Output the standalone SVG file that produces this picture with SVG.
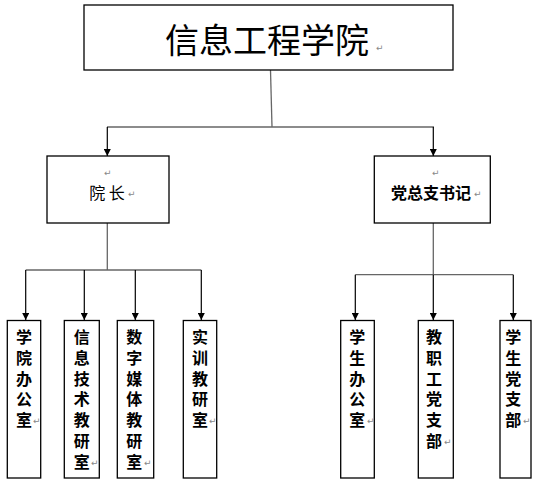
<svg xmlns="http://www.w3.org/2000/svg" width="539" height="486" viewBox="0 0 539 486">
<defs>
<marker id="arr" viewBox="0 0 8 8" refX="8" refY="4" markerUnits="userSpaceOnUse" markerWidth="8" markerHeight="7" orient="auto">
<path d="M0,0 L8,4 L0,8 z" fill="#000"/>
</marker>
</defs>
<style>
.box{fill:#fff;stroke:#000;stroke-width:1.3}
.t{font-family:"Noto Sans CJK SC","Liberation Sans",sans-serif;fill:#000;text-anchor:middle}
.v{font-family:"Noto Sans CJK SC","Liberation Sans",sans-serif;fill:#000;font-size:16px;font-weight:bold;writing-mode:vertical-rl;text-anchor:start;letter-spacing:4.8px}
.rm{font-family:"DejaVu Sans",sans-serif;font-size:9px;fill:#888}
.trunk{stroke:#666;stroke-width:1.3;fill:none}
.drop{stroke:#000;stroke-width:1.2;fill:none;marker-end:url(#arr)}
</style>
<rect width="539" height="486" fill="#fff"/>
<g id="connectors">
<line class="trunk" x1="270.5" y1="70" x2="272" y2="127"/>
<line class="trunk" x1="107" y1="127" x2="434" y2="127"/>
<line class="drop" x1="107.3" y1="127" x2="107.3" y2="156"/>
<line class="drop" x1="433.3" y1="127" x2="433.3" y2="156"/>
<line class="trunk" x1="107.3" y1="223" x2="107.3" y2="270"/>
<line class="trunk" x1="25.7" y1="270" x2="201.3" y2="270"/>
<line class="drop" x1="25.7" y1="270" x2="25.7" y2="320"/>
<line class="drop" x1="84.3" y1="270" x2="84.3" y2="320"/>
<line class="drop" x1="135.3" y1="270" x2="135.3" y2="320"/>
<line class="drop" x1="201.3" y1="270" x2="201.3" y2="320"/>
<line class="trunk" x1="433.3" y1="223" x2="433.3" y2="274.7"/>
<line class="trunk" x1="355.3" y1="274.7" x2="513.3" y2="274.7"/>
<line class="drop" x1="355.3" y1="274.7" x2="355.3" y2="320"/>
<line class="drop" x1="433.3" y1="274.7" x2="433.3" y2="320"/>
<line class="drop" x1="513.3" y1="274.7" x2="513.3" y2="320"/>
</g>
<g id="n-root">
<rect class="box" x="84" y="5" width="369" height="65"/>
<text class="t" x="267" y="53" style="font-size:34px">信息工程学院</text>
<text class="rm" x="376" y="51">↵</text>
</g>
<g id="n-dean">
<rect class="box" x="47" y="156" width="122" height="67"/>
<text class="rm" x="104" y="176">↵</text>
<text class="t" x="107" y="199" style="font-size:16px">院 长</text>
<text class="rm" x="128" y="197">↵</text>
</g>
<g id="n-secretary">
<rect class="box" x="374.3" y="156" width="116" height="67"/>
<text class="rm" x="432" y="176">↵</text>
<text class="t" x="431" y="199" style="font-size:16px;font-weight:bold">党总支书记</text>
<text class="rm" x="474" y="197">↵</text>
</g>
<g id="n-office">
<rect class="box" x="7.3" y="320.5" width="33.4" height="157.5"/>
<text class="v" x="24" y="329">学院办公室</text>
<text class="rm" x="33" y="424">↵</text>
</g>
<g id="n-it">
<rect class="box" x="64.3" y="320.5" width="35" height="157.5"/>
<text class="v" x="81.7" y="329">信息技术教研室</text>
<text class="rm" x="91" y="466">↵</text>
</g>
<g id="n-media">
<rect class="box" x="117.3" y="320.5" width="36.4" height="157.5"/>
<text class="v" x="134.3" y="329">数字媒体教研室</text>
<text class="rm" x="144" y="466">↵</text>
</g>
<g id="n-train">
<rect class="box" x="183.3" y="320.5" width="33.4" height="157.5"/>
<text class="v" x="200" y="329">实训教研室</text>
<text class="rm" x="209" y="424">↵</text>
</g>
<g id="n-student-office">
<rect class="box" x="340.7" y="320.5" width="33.6" height="157.5"/>
<text class="v" x="357.3" y="329">学生办公室</text>
<text class="rm" x="367" y="424">↵</text>
</g>
<g id="n-staff-party">
<rect class="box" x="418.3" y="320.5" width="35" height="157.5"/>
<text class="v" x="434" y="329">教职工党支部</text>
<text class="rm" x="444" y="445">↵</text>
</g>
<g id="n-student-party">
<rect class="box" x="500" y="320.5" width="31" height="157.5"/>
<text class="v" x="513.3" y="329">学生党支部</text>
<text class="rm" x="523" y="424">↵</text>
</g>
</svg>
